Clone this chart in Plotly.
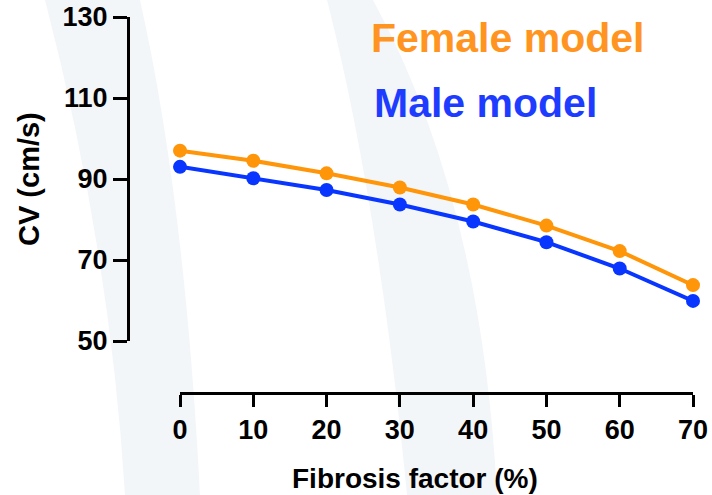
import plotly.graph_objects as go

# Conduction velocity vs. fibrosis level for the two sex-specific models
fibrosis = [0, 10, 20, 30, 40, 50, 60, 70]
female_cv = [97.0, 94.5, 91.4, 87.9, 83.7, 78.5, 72.2, 63.8]
male_cv = [93.0, 90.2, 87.3, 83.7, 79.5, 74.4, 67.9, 59.9]
x_ticks = [0, 10, 20, 30, 40, 50, 60, 70]
y_ticks = [50, 70, 90, 110, 130]

W, H = 712, 495
FONT = "Liberation Sans, Arial, sans-serif"
ORANGE = "#FF9508"
BLUE = "#0836FF"


def px(x):
    return x / W


def py(y):
    return 1 - y / H


fig = go.Figure()
fig.add_trace(go.Scatter(
    x=fibrosis, y=female_cv, mode="lines+markers", name="Female model",
    line=dict(color=ORANGE, width=4), marker=dict(color=ORANGE, size=14),
    cliponaxis=False,
))
fig.add_trace(go.Scatter(
    x=fibrosis, y=male_cv, mode="lines+markers", name="Male model",
    line=dict(color=BLUE, width=4), marker=dict(color=BLUE, size=14),
    cliponaxis=False,
))


# faint curved bands in the slide background
def band(pts_left, pts_right):
    (a, b, c), (d, e, f) = pts_left, pts_right
    return (f"M {px(a[0])},{py(a[1])} Q {px(b[0])},{py(b[1])} {px(c[0])},{py(c[1])} "
            f"L {px(d[0])},{py(d[1])} Q {px(e[0])},{py(e[1])} {px(f[0])},{py(f[1])} Z")


bands = [
    band(((45, 0), (110, 250), (125, 495)), ((200, 495), (185, 200), (140, 0))),
    band(((327, 0), (378, 200), (407, 495)), ((497, 495), (482, 200), (373, 0))),
]
fig.update_layout(shapes=[
    dict(type="path", path=p, xref="paper", yref="paper", layer="below",
         fillcolor="#F3F6F9", line=dict(width=0))
    for p in bands
])

axis_font = dict(family=FONT, size=27, color="black")
fig.update_xaxes(
    domain=[px(180), px(693)], range=[0, 70], anchor="free", position=py(393),
    tickvals=x_ticks, ticktext=[f"<b>{v}</b>" for v in x_ticks],
    ticks="outside", ticklen=12, tickwidth=3, tickcolor="black",
    showline=True, linewidth=3, linecolor="black", showgrid=False, zeroline=False,
    tickfont=axis_font, automargin=False,
)
fig.update_yaxes(
    domain=[py(341), py(17)], range=[50, 130], anchor="free", position=px(128),
    tickvals=y_ticks, ticktext=[f"<b>{v}</b>" for v in y_ticks],
    ticks="outside", ticklen=14, tickwidth=3, tickcolor="black",
    showline=True, linewidth=3, linecolor="black", showgrid=False, zeroline=False,
    tickfont=axis_font, automargin=False,
)

fig.update_layout(
    width=W, height=H, autosize=False,
    margin=dict(l=0, r=0, t=0, b=0, pad=0),
    paper_bgcolor="white", plot_bgcolor="rgba(0,0,0,0)",
    font=dict(family=FONT),
    showlegend=False,
    annotations=[
        dict(text="<b>Fibrosis factor (%)</b>", x=px(415), y=py(478), xref="paper", yref="paper",
             xanchor="center", yanchor="middle", showarrow=False,
             font=dict(family=FONT, size=28, color="black")),
        dict(text="<b>CV (cm/s)</b>", x=px(29), y=py(179), xref="paper", yref="paper",
             xanchor="center", yanchor="middle", showarrow=False, textangle=-90,
             font=dict(family=FONT, size=29, color="black")),
        dict(text="<b>Female model</b>", x=px(369), y=py(38), xref="paper", yref="paper",
             xanchor="left", yanchor="middle", showarrow=False,
             font=dict(family=FONT, size=41, color="#FF9420")),
        dict(text="<b>Male model</b>", x=px(372), y=py(103), xref="paper", yref="paper",
             xanchor="left", yanchor="middle", showarrow=False,
             font=dict(family=FONT, size=41, color="#1E3CFF")),
    ],
)

fig.write_html("out.html")
